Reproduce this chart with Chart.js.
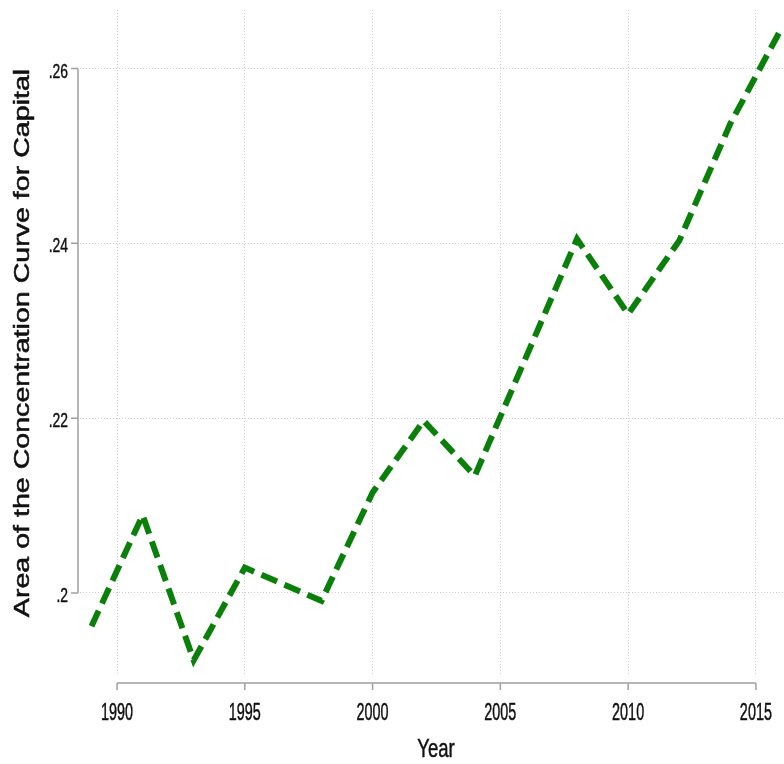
<!DOCTYPE html>
<html>
<head>
<meta charset="utf-8">
<script src="https://cdn.jsdelivr.net/npm/chart.js@4/dist/chart.umd.min.js"></script>
<style>
  html, body { margin: 0; padding: 0; background: #fff; }
</style>
</head>
<body>
<canvas id="c" width="784" height="764"></canvas>
<script>
// values
const years = [1989, 1991, 1993, 1995, 1998, 2000, 2002, 2004, 2008, 2010, 2012, 2014, 2016];
const areaCapital = [0.1962, 0.2089, 0.1923, 0.2029, 0.1991, 0.2115, 0.2197, 0.2134, 0.2405, 0.2319, 0.2403, 0.2537, 0.2646];
const xTicks = [1990, 1995, 2000, 2005, 2010, 2015];
const yTicks = [0.2, 0.22, 0.24, 0.26];
const yTickLabels = [".2", ".22", ".24", ".26"];
const xTitle = "Year";
const yTitle = "Area of the Concentration Curve for Capital";

const sans = "'Liberation Sans', Arial, Helvetica, sans-serif";
const ink = "#111";

// the original graph was squeezed sideways, so text is drawn with a stretch
function stretchedText(ctx, text, x, y, size, sx, align) {
  ctx.save();
  ctx.translate(x, y);
  ctx.scale(sx, 1);
  ctx.font = size + "px " + sans;
  ctx.textAlign = align;
  ctx.textBaseline = "alphabetic";
  ctx.fillStyle = ink;
  ctx.strokeStyle = ink;
  ctx.lineWidth = 0.5;
  ctx.fillText(text, 0, 0);
  ctx.strokeText(text, 0, 0);
  ctx.restore();
}

// Stata-style axes: lines only span first..last tick, labels and titles
const stataAxes = {
  id: "stataAxes",
  afterDraw(chart) {
    const ctx = chart.ctx;
    const xs = chart.scales.x, ys = chart.scales.y;
    const area = chart.chartArea;
    ctx.save();
    ctx.strokeStyle = "#a0a0a0";
    ctx.lineWidth = 1.5;

    // y axis
    const ax = area.left - 2;
    ctx.beginPath();
    ctx.moveTo(ax, ys.getPixelForValue(yTicks[0]));
    ctx.lineTo(ax, ys.getPixelForValue(yTicks[yTicks.length - 1]));
    yTicks.forEach(v => {
      const p = ys.getPixelForValue(v);
      ctx.moveTo(ax - 7, p);
      ctx.lineTo(ax, p);
    });
    ctx.stroke();

    // x axis
    const ay = area.bottom + 7;
    ctx.beginPath();
    ctx.moveTo(xs.getPixelForValue(xTicks[0]), ay);
    ctx.lineTo(xs.getPixelForValue(xTicks[xTicks.length - 1]), ay);
    xTicks.forEach(v => {
      const p = xs.getPixelForValue(v);
      ctx.moveTo(p, ay);
      ctx.lineTo(p, ay + 7);
    });
    ctx.stroke();
    ctx.restore();

    // tick labels
    yTicks.forEach((v, i) => {
      stretchedText(ctx, yTickLabels[i], ax - 10, ys.getPixelForValue(v) + 9, 21, 0.66, "right");
    });
    xTicks.forEach(v => {
      stretchedText(ctx, String(v), xs.getPixelForValue(v), ay + 37, 24, 0.6, "center");
    });

    // titles
    stretchedText(ctx, xTitle, (area.left + area.right) / 2 + 4, 757, 25, 0.74, "center");
    ctx.save();
    ctx.translate(29, (area.top + area.bottom) / 2);
    ctx.rotate(-Math.PI / 2);
    stretchedText(ctx, yTitle, 0, 0, 21.5, 1.33, "center");
    ctx.restore();
  }
};

new Chart(document.getElementById("c").getContext("2d"), {
  type: "line",
  data: {
    datasets: [{
      data: years.map((y, i) => ({ x: y, y: areaCapital[i] })),
      borderColor: "#0a800a",
      borderWidth: 6,
      borderDash: [17, 8],
      borderCapStyle: "butt",
      pointRadius: 0,
      tension: 0,
      fill: false
    }]
  },
  options: {
    responsive: false,
    animation: false,
    layout: { padding: { top: 10, right: 0, left: 0, bottom: 0 } },
    plugins: { legend: { display: false }, tooltip: { enabled: false } },
    scales: {
      x: {
        type: "linear",
        min: 1988.55,
        max: 2016.1,
        afterBuildTicks: s => { s.ticks = xTicks.map(v => ({ value: v })); },
        afterFit: s => { s.height = 88; s.paddingLeft = 0; s.paddingRight = 0; },
        border: { display: false, dash: [1, 2] },
        grid: { drawTicks: false, color: "#cdcdcd", lineWidth: 1 },
        ticks: { display: false }
      },
      y: {
        min: 0.1905,
        max: 0.2667,
        afterBuildTicks: s => { s.ticks = yTicks.map(v => ({ value: v })); },
        afterFit: s => { s.width = 80; s.paddingTop = 0; s.paddingBottom = 0; },
        border: { display: false, dash: [1, 2] },
        grid: { drawTicks: false, color: "#cdcdcd", lineWidth: 1 },
        ticks: { display: false }
      }
    }
  },
  plugins: [stataAxes]
});
</script>
</body>
</html>
